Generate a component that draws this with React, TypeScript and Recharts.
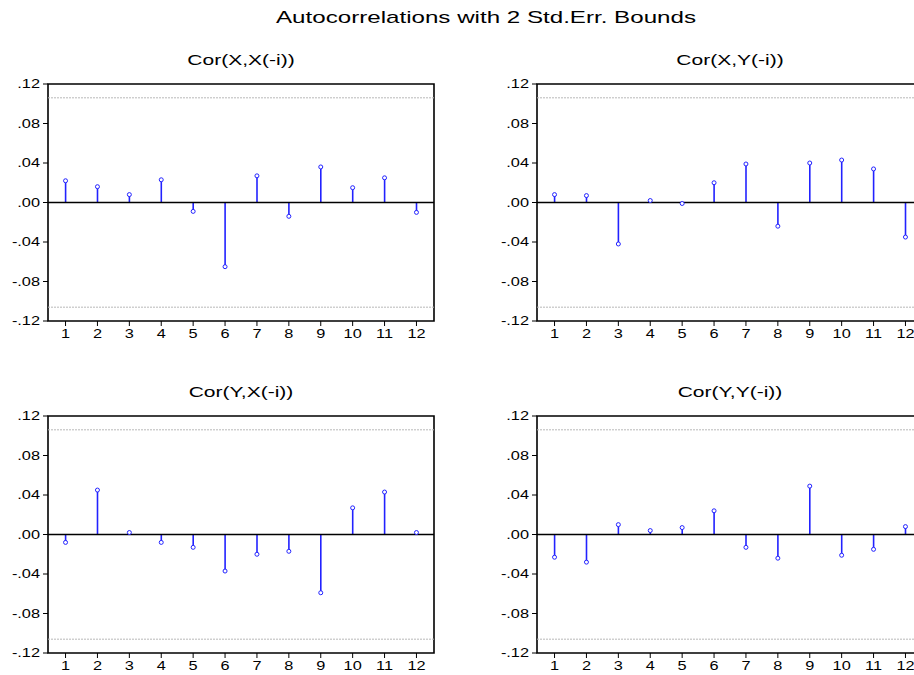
import React from 'react';
import { ComposedChart, Bar, Line, XAxis, YAxis, ReferenceLine, ReferenceArea } from 'recharts';

// lags 1..12
const lags = [1, 2, 3, 4, 5, 6, 7, 8, 9, 10, 11, 12];
const yTicks = [-0.12, -0.08, -0.04, 0, 0.04, 0.08, 0.12];
const bound = 0.106;

const corXX = [0.022, 0.016, 0.008, 0.023, -0.009, -0.065, 0.027, -0.014, 0.036, 0.015, 0.025, -0.01];
const corXY = [0.008, 0.007, -0.042, 0.002, -0.001, 0.02, 0.039, -0.024, 0.04, 0.043, 0.034, -0.035];
const corYX = [-0.008, 0.045, 0.002, -0.008, -0.013, -0.037, -0.02, -0.017, -0.059, 0.027, 0.043, 0.002];
const corYY = [-0.023, -0.028, 0.01, 0.004, 0.007, 0.024, -0.013, -0.024, 0.049, -0.021, -0.015, 0.008];

const FONT = '"Liberation Sans", Arial, sans-serif';
const BLUE = '#2222ff';
const SX = 1.36; // text in the reference is drawn wide

const fmt = (v: number) => {
    const s = Math.abs(v).toFixed(2).replace(/^0/, '');
    return v < 0 ? '-' + s : s;
};

const YTick = (props: any) => {
    const { x, y, payload } = props;
    return (
        <g transform={`translate(${x},${y}) scale(${SX},1)`}>
            <text x={0} y={0} dy="0.355em" textAnchor="end" fontSize={12} fontFamily={FONT} fill="#000">
                {fmt(payload.value)}
            </text>
        </g>
    );
};

const XTick = (props: any) => {
    const { x, y, payload } = props;
    return (
        <g transform={`translate(${x},${y}) scale(${SX},1)`}>
            <text x={0} y={0} dy="0.71em" textAnchor="middle" fontSize={12} fontFamily={FONT} fill="#000">
                {payload.value}
            </text>
        </g>
    );
};

const Stem = (props: any) => {
    const { x, y, width, height } = props;
    const cx = x + width / 2;
    return <line x1={cx} x2={cx} y1={y} y2={y + height} stroke={BLUE} strokeWidth={1.6} />;
};

const Panel = ({ values, left, top, title }: { values: number[]; left: number; top: number; title: string }) => {
    const data = lags.map((lag, i) => ({ lag, v: values[i] }));
    return (
        <>
            <div
                style={{
                    position: 'absolute', left: left + 48 + 193, top: top - 32, fontFamily: FONT, fontSize: 15,
                    lineHeight: 1, whiteSpace: 'nowrap', transform: `translateX(-50%) scaleX(1.4)`, color: '#000'
                }}
            >
                {title}
            </div>
            <div style={{ position: 'absolute', left, top: top - 10 }}>
                <ComposedChart width={460} height={277} data={data} margin={{ top: 10, right: 26, bottom: 0, left: 0 }}>
                    <XAxis
                        dataKey="lag"
                        type="number"
                        domain={[0.45, 12.55]}
                        ticks={lags}
                        interval={0}
                        height={30}
                        axisLine={false}
                        tickLine={{ stroke: '#000' }}
                        tickSize={5}
                        tickMargin={3}
                        tick={(p: any) => <XTick {...p} />}
                    />
                    <YAxis
                        type="number"
                        domain={[-0.12, 0.12]}
                        ticks={yTicks}
                        interval={0}
                        width={48}
                        axisLine={false}
                        tickLine={{ stroke: '#000' }}
                        tickSize={5}
                        tickMargin={3}
                        tick={(p: any) => <YTick {...p} />}
                    />
                    <ReferenceLine y={bound} stroke="#b8b8b8" strokeDasharray="2 1" />
                    <ReferenceLine y={-bound} stroke="#b8b8b8" strokeDasharray="2 1" />
                    <Bar dataKey="v" barSize={2} shape={(p: any) => <Stem {...p} />} isAnimationActive={false} />
                    <ReferenceLine y={0} stroke="#000" strokeWidth={1.4} />
                    <Line
                        dataKey="v"
                        stroke="none"
                        dot={{ r: 2, stroke: BLUE, strokeWidth: 1, fill: '#fff' }}
                        activeDot={false}
                        isAnimationActive={false}
                    />
                    <ReferenceArea x1={0.45} x2={12.55} y1={-0.12} y2={0.12} fill="none" fillOpacity={0} stroke="#000" strokeWidth={1.6} />
                </ComposedChart>
            </div>
        </>
    );
};

export default function App() {
    return (
        <div style={{ position: 'absolute', left: 0, top: 0, width: 914, height: 675, overflow: 'hidden', background: '#fff' }}>
            <div
                style={{
                    position: 'absolute', left: 486, top: 9, fontFamily: FONT, fontSize: 17, lineHeight: 1,
                    whiteSpace: 'nowrap', transform: 'translateX(-50%) scaleX(1.42)', color: '#000'
                }}
            >
                Autocorrelations with 2 Std.Err. Bounds
            </div>
            <Panel values={corXX} left={0} top={84} title="Cor(X,X(-i))" />
            <Panel values={corXY} left={489} top={84} title="Cor(X,Y(-i))" />
            <Panel values={corYX} left={0} top={416} title="Cor(Y,X(-i))" />
            <Panel values={corYY} left={489} top={416} title="Cor(Y,Y(-i))" />
        </div>
    );
}
